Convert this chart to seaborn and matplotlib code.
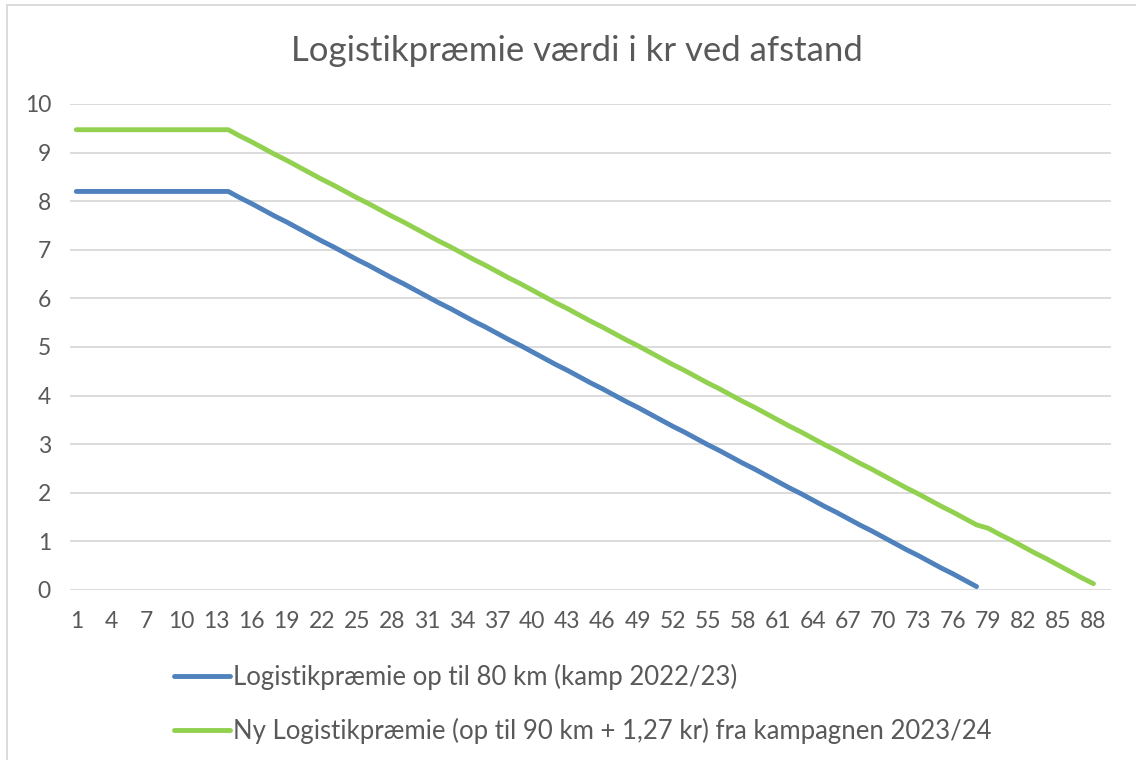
import numpy as np
import pandas as pd
import matplotlib
matplotlib.use("Agg")
import matplotlib.pyplot as plt
from matplotlib.lines import Line2D
import seaborn as sns

# afstand i km (kategorier 1..88)
km = list(range(1, 89))

# Logistikpraemie op til 80 km (kamp 2022/23), kr
old_bonus = [8.20] * 14 + [
    8.07, 7.95, 7.82, 7.69, 7.57, 7.44, 7.31, 7.18, 7.06, 6.93,
    6.80, 6.68, 6.55, 6.42, 6.30, 6.17, 6.04, 5.91, 5.79, 5.66,
    5.53, 5.41, 5.28, 5.15, 5.03, 4.90, 4.77, 4.64, 4.52, 4.39,
    4.26, 4.14, 4.01, 3.88, 3.76, 3.63, 3.50, 3.37, 3.25, 3.12,
    2.99, 2.87, 2.74, 2.61, 2.49, 2.36, 2.23, 2.10, 1.98, 1.85,
    1.72, 1.60, 1.47, 1.34, 1.22, 1.09, 0.96, 0.83, 0.71, 0.58,
    0.45, 0.33, 0.20, 0.07,
] + [np.nan] * 10

# Ny Logistikpraemie (op til 90 km + 1,27 kr), kr
new_bonus = [9.47] * 14 + [
    9.34, 9.22, 9.09, 8.96, 8.84, 8.71, 8.58, 8.45, 8.33, 8.20,
    8.07, 7.95, 7.82, 7.69, 7.57, 7.44, 7.31, 7.18, 7.06, 6.93,
    6.80, 6.68, 6.55, 6.42, 6.30, 6.17, 6.04, 5.91, 5.79, 5.66,
    5.53, 5.41, 5.28, 5.15, 5.03, 4.90, 4.77, 4.64, 4.52, 4.39,
    4.26, 4.14, 4.01, 3.88, 3.76, 3.63, 3.50, 3.37, 3.25, 3.12,
    2.99, 2.87, 2.74, 2.61, 2.49, 2.36, 2.23, 2.10, 1.98, 1.85,
    1.72, 1.60, 1.47, 1.34, 1.27, 1.14, 1.02, 0.89, 0.76, 0.64,
    0.51, 0.38, 0.25, 0.13,
]

labels = ["Logistikpræmie op til 80 km (kamp 2022/23)",
          "Ny Logistikpræmie (op til 90 km + 1,27 kr) fra kampagnen 2023/24"]
colors = ["#4f81bd", "#92d050"]

df = pd.DataFrame({"km": km, labels[0]: old_bonus, labels[1]: new_bonus})
long = df.melt(id_vars="km", var_name="serie", value_name="kr").dropna()

sns.set_theme(style="white")
plt.rcParams["font.family"] = ["Lato", "DejaVu Sans"]
txt = "#595959"

fig = plt.figure(figsize=(11.36, 7.6), dpi=100)
ax = fig.add_axes([0.062, 0.2237, 0.916, 0.6395])

sns.lineplot(data=long, x="km", y="kr", hue="serie", hue_order=labels,
             palette=colors, linewidth=3.5, solid_capstyle="round",
             legend=False, ax=ax)

ax.set_xlim(0.5, 89.5)
ax.set_ylim(0, 10)
ax.set_xticks(km[::3])
ax.set_yticks(range(0, 11))
ax.yaxis.grid(True, color="#d9d9d9", linewidth=1.3)
ax.set_axisbelow(True)
for s in ax.spines.values():
    s.set_visible(False)
ax.tick_params(axis="both", length=0, labelsize=16.5, colors=txt)
ax.tick_params(axis="x", pad=15)
ax.tick_params(axis="y", pad=14)
ax.set_xlabel("")
ax.set_ylabel("")

fig.suptitle("Logistikpræmie værdi i kr ved afstand", x=0.5075, y=0.933,
             va="center", fontsize=25, color=txt)

handles = [Line2D([], [], color=c, linewidth=3.5, solid_capstyle="round") for c in colors]
fig.legend(handles, labels, loc="upper left", bbox_to_anchor=(0.153, 0.126),
           frameon=False, fontsize=18.5, handlelength=2.2, handletextpad=0.1,
           labelspacing=1.06, labelcolor=txt, borderpad=0, borderaxespad=0)

# chart area frame (left and top edge visible)
fig.add_artist(Line2D([0.0065, 0.0065], [0.0, 0.9935], color="#d9d9d9", linewidth=1.3))
fig.add_artist(Line2D([0.0065, 1.0], [0.9935, 0.9935], color="#d9d9d9", linewidth=1.3))

fig.savefig("out.png", dpi=100)
